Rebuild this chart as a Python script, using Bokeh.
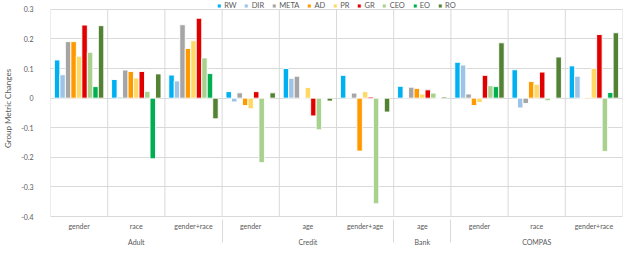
from bokeh.plotting import figure
from bokeh.models import ColumnDataSource, FactorRange, Legend, LegendItem, FixedTicker
from bokeh.transform import dodge
from bokeh.embed import file_html
from bokeh.resources import INLINE

# ---- data ----
datasets = ["Adult", "Adult", "Adult", "Credit", "Credit", "Credit", "Bank", "COMPAS", "COMPAS", "COMPAS"]
attributes = ["gender", "race", "gender+race", "gender", "age", "gender+age", "age", "gender", "race", "gender+race"]
methods = ["RW", "DIR", "META", "AD", "PR", "GR", "CEO", "EO", "RO"]
colors = ["#00B0F0", "#9DC3E6", "#A5A5A5", "#FF9900", "#FFD966", "#E00000", "#A9D18E", "#00B050", "#548235"]

RW = [0.129, 0.063, 0.078, 0.022, 0.100, 0.077, 0.040, 0.121, 0.096, 0.109]
DIR = [0.079, 0.004, 0.058, -0.013, 0.067, 0.002, 0.002, 0.112, -0.033, 0.074]
META = [0.191, 0.095, 0.248, 0.018, 0.074, 0.017, 0.037, 0.014, -0.018, 0.0]
AD = [0.191, 0.090, 0.168, -0.025, 0.0, -0.179, 0.033, -0.025, 0.056, 0.002]
PR = [0.142, 0.068, 0.194, -0.036, 0.036, 0.022, 0.014, -0.015, 0.047, 0.101]
GR = [0.247, 0.090, 0.270, 0.022, -0.060, 0.004, 0.028, 0.077, 0.088, 0.215]
CEO = [0.155, 0.023, 0.136, -0.218, -0.107, -0.357, 0.017, 0.042, -0.009, -0.180]
EO = [0.039, -0.205, 0.083, 0.0, 0.0, 0.0, 0.0, 0.039, 0.0, 0.019]
RO = [0.245, 0.082, -0.070, 0.018, -0.010, -0.047, 0.004, 0.187, 0.139, 0.221]

y_ticks = [-0.4, -0.3, -0.2, -0.1, 0.0, 0.1, 0.2, 0.3]
y_tick_labels = ["-0.4", "-0.3", "-0.2", "-0.1", "0", "0.1", "0.2", "0.3"]

series = {"RW": RW, "DIR": DIR, "META": META, "AD": AD, "PR": PR,
          "GR": GR, "CEO": CEO, "EO": EO, "RO": RO}

factors = list(zip(datasets, attributes))
src = ColumnDataSource(dict(x=factors, **series))

FONT = "Lato"
TXT = "#595959"
GRID = "#D9D9D9"
HEADROOM = 0.03  # room above the top gridline for the legend

p = figure(
    x_range=FactorRange(*factors, factor_padding=0, group_padding=0, range_padding=0),
    y_range=(y_ticks[0], y_ticks[-1] + HEADROOM),
    width=624, height=248,
    output_backend="svg", toolbar_location=None,
    min_border_left=0, min_border_right=2, min_border_top=0, min_border_bottom=0,
)
p.outline_line_color = None
p.background_fill_color = "white"

# vertical gridlines at category boundaries, from the bottom to the top gridline
bounds = list(range(len(factors) + 1))
p.segment(x0=bounds, y0=[y_ticks[0]] * len(bounds), x1=bounds, y1=[y_ticks[-1]] * len(bounds),
          line_color=GRID, line_width=1, level="underlay")

w = 0.096
items = []
n = len(methods)
for k, m in enumerate(methods):
    r = p.vbar(x=dodge("x", (k - (n - 1) / 2) * w, range=p.x_range), top=m, bottom=0,
               width=w, source=src, fill_color=colors[k], line_color="white", line_width=0.9)
    items.append(LegendItem(label=m, renderers=[r]))

# horizontal gridlines
p.xgrid.grid_line_color = None
p.ygrid.grid_line_color = GRID
p.ygrid.grid_line_width = 1
p.ygrid.ticker = FixedTicker(ticks=y_ticks)

# y axis
p.yaxis.ticker = FixedTicker(ticks=y_ticks)
p.yaxis.major_label_overrides = {t: l for t, l in zip(y_ticks, y_tick_labels)}
p.yaxis.axis_line_color = None
p.yaxis.major_tick_line_color = None
p.yaxis.minor_tick_line_color = None
p.yaxis.major_label_text_font = FONT
p.yaxis.major_label_text_font_size = "7px"
p.yaxis.major_label_text_color = TXT
p.yaxis.major_label_standoff = 11
p.yaxis.axis_label = "Group Metric Changes"
p.yaxis.axis_label_text_font = FONT
p.yaxis.axis_label_text_font_size = "8px"
p.yaxis.axis_label_text_font_style = "normal"
p.yaxis.axis_label_text_color = TXT
p.yaxis.axis_label_standoff = 5

# x axis
p.xaxis.axis_line_color = GRID
p.xaxis.major_tick_line_color = None
p.xaxis.minor_tick_line_color = None
p.xaxis.major_tick_out = 0
p.xaxis.major_tick_in = 0
p.xaxis.major_label_text_font = FONT
p.xaxis.major_label_text_font_size = "7px"
p.xaxis.major_label_text_color = TXT
p.xaxis.major_label_standoff = 5
p.xaxis.group_text_font = FONT
p.xaxis.group_text_font_size = "7px"
p.xaxis.group_text_font_style = "normal"
p.xaxis.group_text_color = TXT
p.xaxis.separator_line_color = GRID
p.xaxis.separator_line_width = 1

legend = Legend(items=items, orientation="horizontal", location="top_center",
                glyph_width=5, glyph_height=5, label_standoff=3, spacing=7,
                label_text_font=FONT, label_text_font_size="7.5px", label_text_color=TXT,
                label_height=9, label_width=5, padding=0, margin=1, border_line_color=None,
                background_fill_alpha=0)
p.add_layout(legend, "center")

open("out.html", "w").write(file_html(p, INLINE))
